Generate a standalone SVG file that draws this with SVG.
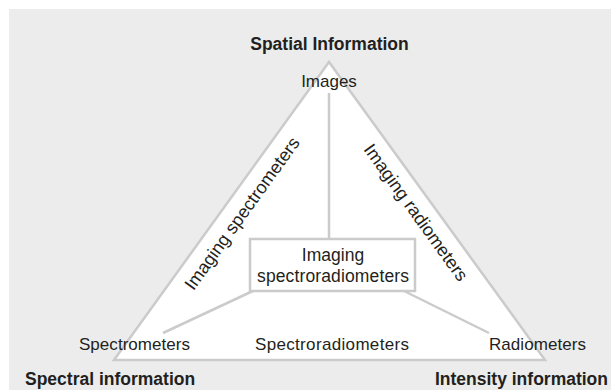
<svg xmlns="http://www.w3.org/2000/svg" width="611" height="390" viewBox="0 0 611 390">
<style>
.t{font-family:"Liberation Sans",Arial,sans-serif;font-size:17px;fill:#231f20}
.b{font-family:"Liberation Sans",Arial,sans-serif;font-size:17.5px;font-weight:bold;fill:#231f20}
.ln{stroke:#cbcbcb;stroke-width:2.5;fill:none}
</style>
<rect x="9" y="9" width="602" height="381" fill="#ececec"/>
<g id="triangle">
<polygon points="329,62 114,360 545,360" fill="#ffffff" stroke="#cbcbcb" stroke-width="2.5" stroke-linejoin="miter"/>
</g>
<g id="connectors">
<line class="ln" x1="329" y1="93" x2="329" y2="239"/>
<line class="ln" x1="255" y1="290" x2="163" y2="333"/>
<line class="ln" x1="402" y1="290" x2="489" y2="333"/>
</g>
<g id="spatial">
<text class="b" x="329.5" y="50" text-anchor="middle">Spatial Information</text>
<text class="t" x="329" y="87" text-anchor="middle">Images</text>
</g>
<g id="imaging-spectroradiometers">
<rect x="250" y="239" width="165" height="52" fill="#ffffff" stroke="#cbcbcb" stroke-width="2.5"/>
<text class="t" x="333" y="261" text-anchor="middle" style="font-size:17.5px">Imaging</text>
<text class="t" x="333" y="282" text-anchor="middle" style="font-size:17.5px" textLength="152">spectroradiometers</text>
</g>
<g id="imaging-spectrometers">
<text class="t" transform="translate(247,217) rotate(-54.2)" text-anchor="middle" style="font-size:18px">Imaging spectrometers</text>
</g>
<g id="imaging-radiometers">
<text class="t" transform="translate(411,216) rotate(54.2)" text-anchor="middle" style="font-size:18px">Imaging radiometers</text>
</g>
<g id="spectrometers">
<text class="t" x="79" y="350" textLength="111">Spectrometers</text>
</g>
<g id="spectroradiometers">
<text class="t" x="255" y="350" textLength="154">Spectroradiometers</text>
</g>
<g id="radiometers">
<text class="t" x="489" y="350" textLength="97">Radiometers</text>
</g>
<g id="spectral">
<text class="b" x="25" y="385">Spectral information</text>
</g>
<g id="intensity">
<text class="b" x="608" y="385" text-anchor="end">Intensity information</text>
</g>
</svg>
